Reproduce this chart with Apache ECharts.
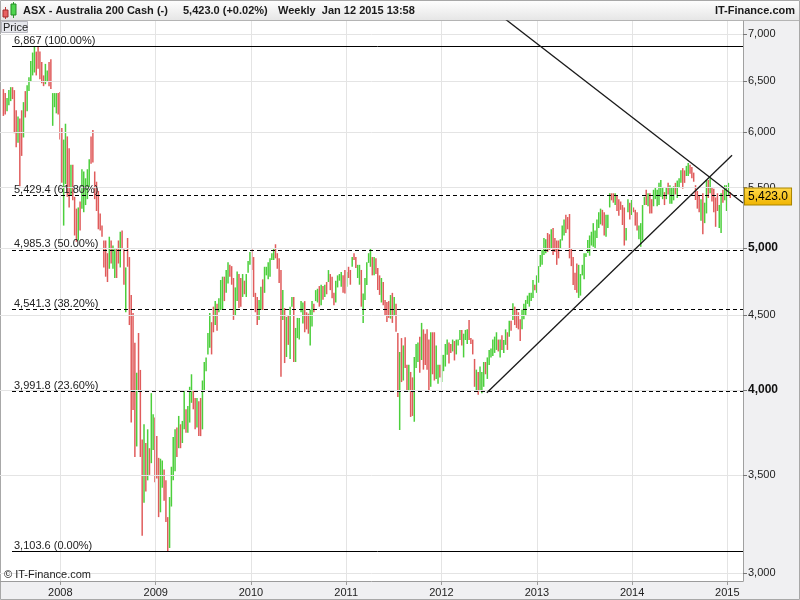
<!DOCTYPE html>
<html>
<head>
<meta charset="utf-8">
<script src="https://cdn.jsdelivr.net/npm/echarts@6/dist/echarts.min.js"></script>
<style>
  html, body { margin: 0; padding: 0; background: #fff; }
  #chart { width: 800px; height: 600px; }
</style>
</head>
<body>
<div id="chart"></div>
<script>
// weekly bars: [high, low, closedUp]
const w2007 = [[6420,6155,0],[6380,6170,0],[6330,6200,1],[6410,6260,1],[6440,6300,1],[6440,6320,0],[6410,5990,0],[6210,5860,0],[6150,5900,1],[6130,5510,0],[6210,5780,0],[6290,5950,1],[6400,6140,0],[6460,6200,1],[6540,6400,1],[6710,6500,1],[6800,6560,1],[6867,6590,1],[6810,6560,0],[6860,6630,0],[6810,6520,0],[6700,6480,0],[6560,6450,0],[6680,6470,1],[6610,6500,1],[6700,6450,0],[6730,6420,0],[6380,6060,1],[6380,6240,1],[6380,6180,1],[6380,6170,0]];
const w2008 = [[6390,5930,0],[6040,5540,0],[5930,5180,1],[6080,5530,1],[5960,5420,0],[5850,5330,0],[5700,5430,1],[5700,5390,0],[5420,5100,0],[5320,5050,0],[5330,5060,1],[5380,5140,0],[5660,5320,1],[5640,5290,1],[5580,5350,1],[5660,5400,1],[5750,5500,1],[5960,5710,0],[6020,5720,0],[5640,5400,0],[5550,5300,0],[5470,5150,0],[5280,5140,0],[5180,5090,0],[5060,4850,0],[5060,4780,0],[4960,4740,0],[5090,4840,1],[5060,4880,0],[5020,4840,1],[4990,4770,1],[5000,4770,0],[5060,4880,0],[5130,4850,1],[5140,4990,0],[4990,4720,0],[4850,4520,1],[5080,4855,0],[4930,4430,0],[4645,3800,0],[4515,3876,0],[4308,3600,0],[4110,3660,1],[4375,4000,0],[4128,3600,0],[3700,3180,0],[3790,3350,1],[3680,3410,0],[3760,3470,1],[3650,3500,0],[3980,3565,1],[3850,3640,1]];
const w2009 = [[3830,3460,0],[3720,3480,0],[3595,3275,0],[3590,3300,1],[3580,3430,1],[3530,3360,0],[3470,3250,0],[3275,3104,0],[3380,3120,1],[3545,3330,1],[3715,3470,1],[3760,3520,1],[3770,3600,0],[3840,3650,1],[3790,3650,0],[3810,3680,1],[4000,3760,1],[3880,3740,0],[3900,3740,1],[4020,3800,1],[4100,3920,1],[4000,3880,0],[3950,3760,0],[3950,3770,1],[3930,3720,0],[3950,3720,0],[4060,3760,1],[4180,4000,1],[4210,4120,1],[4375,4230,1],[4515,4275,1],[4450,4230,0],[4560,4380,0],[4600,4430,1],[4580,4390,0],[4620,4520,1],[4755,4536,1],[4780,4540,1],[4780,4600,0],[4830,4660,1],[4890,4730,1],[4870,4780,0],[4860,4720,0],[4770,4466,0],[4700,4500,1],[4820,4600,1],[4800,4550,0],[4770,4560,0],[4800,4630,1],[4750,4650,0],[4800,4630,1],[4900,4810,1]];
const w2010 = [[4970,4870,1],[5000,4831,0],[4930,4630,0],[4660,4520,0],[4630,4430,0],[4608,4466,1],[4705,4536,1],[4760,4536,0],[4855,4660,1],[4855,4790,1],[4890,4760,1],[4920,4780,1],[4960,4907,1],[5000,4907,1],[5030,4920,0],[4960,4840,0],[4920,4733,0],[4831,4084,0],[4681,4466,1],[4550,4173,0],[4487,4213,1],[4500,4294,0],[4560,4200,1],[4630,4560,1],[4630,4180,0],[4410,4180,1],[4480,4340,1],[4480,4330,1],[4600,4520,1],[4590,4440,1],[4600,4380,0],[4520,4400,0],[4510,4370,0],[4540,4290,1],[4600,4420,1],[4580,4520,0],[4680,4600,1],[4690,4590,1],[4710,4560,0],[4720,4570,1],[4710,4610,0],[4720,4630,1],[4740,4650,0],[4830,4740,1],[4800,4680,0],[4780,4620,0],[4660,4570,0],[4750,4590,1],[4790,4700,1],[4800,4750,1],[4815,4705,1],[4790,4660,0]];
const w2011 = [[4831,4655,0],[4815,4705,1],[4855,4770,0],[4831,4720,0],[4930,4855,1],[4960,4907,0],[4930,4845,0],[4870,4770,1],[4870,4720,1],[4831,4560,0],[4655,4445,1],[4770,4608,1],[4890,4718,1],[4960,4885,1],[5000,4855,1],[4930,4790,0],[4930,4790,1],[4920,4800,0],[4845,4681,0],[4790,4645,0],[4770,4590,1],[4740,4570,0],[4608,4501,0],[4593,4452,0],[4600,4480,0],[4644,4475,1],[4660,4445,0],[4630,4500,1],[4580,4383,0],[4375,3956,0],[4246,3756,1],[4340,4050,0],[4290,4060,1],[4346,4140,0],[4161,3990,0],[4161,3990,1],[4115,3834,0],[4080,3840,0],[4213,3805,1],[4300,4140,1],[4310,4180,1],[4350,4110,0],[4445,4193,1],[4400,4130,0],[4370,4160,0],[4400,4130,0],[4330,3990,0],[4380,4020,1],[4380,4100,0],[4380,4060,0],[4290,4070,1],[4161,4040,1]];
const w2012 = [[4161,4080,0],[4227,4050,1],[4227,4120,1],[4300,4150,1],[4330,4227,1],[4310,4170,0],[4300,4240,0],[4330,4250,1],[4320,4190,0],[4330,4230,1],[4330,4290,1],[4396,4327,1],[4396,4290,0],[4370,4210,1],[4396,4327,1],[4400,4300,1],[4466,4327,0],[4340,4300,0],[4330,4230,0],[4200,4020,0],[4130,3990,1],[4115,3970,0],[4150,3990,1],[4115,3980,1],[4180,4020,1],[4180,4100,0],[4210,4070,1],[4260,4160,1],[4270,4210,1],[4330,4220,1],[4350,4240,1],[4380,4260,1],[4330,4250,0],[4330,4210,1],[4360,4260,0],[4327,4240,1],[4400,4294,1],[4380,4260,0],[4460,4350,1],[4460,4390,0],[4585,4466,1],[4560,4430,0],[4540,4410,0],[4520,4400,0],[4470,4320,0],[4540,4400,1],[4580,4470,1],[4608,4500,1],[4640,4580,1],[4660,4560,1],[4660,4600,1],[4755,4623,1],[4720,4680,0]];
const w2013 = [[4790,4660,1],[4860,4735,1],[4946,4855,1],[4985,4870,1],[5080,4946,1],[5070,4960,1],[5120,4970,0],[5110,4985,0],[5150,5000,1],[5160,4946,0],[5080,4970,0],[5060,4870,0],[5060,4920,0],[5070,5000,1],[5180,5060,1],[5230,5100,1],[5270,5120,0],[5250,5150,0],[5275,4920,0],[5000,4860,0],[4930,4718,0],[4810,4681,0],[4880,4660,0],[4870,4623,1],[4800,4640,1],[4870,4790,1],[4960,4760,1],[4960,4930,1],[5064,4962,1],[5100,4940,1],[5130,5020,1],[5200,5010,1],[5140,5000,1],[5230,5080,1],[5290,5160,1],[5320,5190,1],[5310,5180,0],[5290,5100,0],[5270,5090,1],[5270,5160,1],[5450,5330,1],[5450,5390,0],[5450,5370,0],[5450,5350,1],[5430,5300,0],[5400,5260,0],[5380,5310,0],[5350,5185,0],[5330,5020,0],[5160,5060,1],[5400,5290,1],[5370,5230,0]];
const w2014 = [[5393,5267,1],[5330,5290,0],[5310,5180,0],[5290,5140,0],[5180,5070,1],[5200,5010,1],[5350,5060,1],[5420,5350,1],[5480,5350,0],[5450,5340,1],[5450,5280,0],[5400,5280,0],[5480,5340,1],[5500,5400,1],[5480,5340,1],[5540,5350,1],[5565,5420,1],[5500,5400,1],[5460,5350,0],[5500,5400,1],[5540,5440,0],[5520,5360,1],[5500,5360,1],[5510,5390,1],[5540,5440,0],[5560,5410,1],[5580,5500,1],[5650,5540,1],[5670,5490,0],[5650,5540,0],[5690,5600,1],[5716,5600,1],[5700,5620,0],[5680,5580,0],[5630,5550,0],[5520,5393,0],[5470,5320,0],[5430,5290,0],[5400,5220,1],[5450,5110,0],[5370,5200,1],[5565,5280,1],[5565,5410,0],[5580,5450,1],[5500,5380,0],[5490,5290,0],[5415,5170,0],[5450,5300,0],[5351,5160,1],[5450,5120,1],[5480,5370,0],[5520,5390,1]];
const w2015 = [[5520,5300,1],[5540,5430,1],[5460,5410,0]];

const lastWeek = '2015-01-12';
const lastPrice = 5423.0;
const yTicks = [3000, 3500, 4000, 4500, 5000, 5500, 6000, 6500, 7000];
const yearTicks = ['2008-01-01','2009-01-01','2010-01-01','2011-01-01','2012-01-01','2013-01-01','2014-01-01','2015-01-01'];
const fibLevels = [6867, 5429.4, 4985.3, 4541.3, 3991.8, 3103.6];
const fibNames = ['6,867 (100.00%)', '5,429.4 (61.80%)', '4,985.3 (50.00%)', '4,541.3 (38.20%)', '3,991.8 (23.60%)', '3,103.6 (0.00%)'];
const fibStart = '2007-06-30';
const downTrend = [['2012-05-28', 7391], ['2015-03-02', 5368]];
const upTrend = [['2012-06-23', 3983], ['2015-01-19', 5786]];

const FONT = '"Liberation Sans", Arial, sans-serif';
const day = s => { const p = s.split('-'); return Date.UTC(+p[0], +p[1] - 1, +p[2]); };
const WEEK = 7 * 86400000;
const X_MIN = day('2007-05-15');
const X_MAX = day('2015-03-02');
const fmt = v => v.toLocaleString('en-US');

const weeks = [].concat(w2007, w2008, w2009, w2010, w2011, w2012, w2013, w2014, w2015);
const tLast = day(lastWeek);
const bars = weeks.map((w, i) => [tLast - (weeks.length - 1 - i) * WEEK, w[0], w[1], w[2]]);
const yearStarts = yearTicks.map(day);

const chart = echarts.init(document.getElementById('chart'));

chart.setOption({
  animation: false,
  backgroundColor: '#fff',
  grid: { left: 0, right: 57, top: 21, bottom: 19, containLabel: false },
  xAxis: {
    // timestamps on a plain value axis so the year ticks can be placed exactly
    type: 'value', min: X_MIN, max: X_MAX,
    axisLine: { lineStyle: { color: '#9c9c9c' } },
    axisTick: { show: true, length: 4, customValues: yearStarts, lineStyle: { color: '#9c9c9c' } },
    axisLabel: {
      customValues: yearStarts, margin: 6, color: '#222', fontSize: 11, fontFamily: FONT,
      formatter: v => String(new Date(v).getUTCFullYear())
    },
    splitLine: { show: false }
  },
  yAxis: {
    type: 'log', logBase: 10, position: 'right', min: 2962, max: 7146,
    axisLine: { show: true, lineStyle: { color: '#a0a0a0' } },
    axisTick: { show: true, length: 4, customValues: yTicks, lineStyle: { color: '#777' } },
    axisLabel: {
      customValues: yTicks, margin: 5, color: '#222', fontSize: 11, fontFamily: FONT,
      formatter: v => (v === 4000 || v === 5000) ? '{b|' + fmt(v) + '}' : fmt(v),
      rich: { b: { fontSize: 12, fontWeight: 'bold', color: '#111', fontFamily: FONT } }
    },
    splitLine: { show: false }
  },
  graphic: [
    { type: 'rect', z: -10, shape: { x: 0, y: 0, width: 800, height: 20 },
      style: { fill: new echarts.graphic.LinearGradient(0, 0, 0, 1, [{ offset: 0, color: '#ffffff' }, { offset: 1, color: '#e6e6e6' }]) } },
    { type: 'line', z: -9, shape: { x1: 0, y1: 20.5, x2: 800, y2: 20.5 }, style: { stroke: '#b4b4b4', lineWidth: 1 } },
    { type: 'rect', z: -10, shape: { x: 743, y: 21, width: 57, height: 579 }, style: { fill: '#f0f0f2' } },
    { type: 'rect', z: -10, shape: { x: 0, y: 581, width: 800, height: 19 }, style: { fill: '#f0f0f2' } },
    { type: 'rect', z: -8, shape: { x: 0.5, y: 0.5, width: 799, height: 599 }, style: { fill: null, stroke: '#a8a8a8', lineWidth: 1 } },
    // candlestick icon
    { type: 'line', z: 5, shape: { x1: 5.5, y1: 7, x2: 5.5, y2: 19 }, style: { stroke: '#c23b3b', lineWidth: 1 } },
    { type: 'rect', z: 6, shape: { x: 3, y: 10, width: 5, height: 7 }, style: { fill: '#e86060', stroke: '#a02a2a', lineWidth: 1 } },
    { type: 'line', z: 5, shape: { x1: 13.5, y1: 2, x2: 13.5, y2: 18 }, style: { stroke: '#2e9a2e', lineWidth: 1 } },
    { type: 'rect', z: 6, shape: { x: 11, y: 4, width: 5, height: 11 }, style: { fill: '#4fd64f', stroke: '#248a24', lineWidth: 1 } },
    { type: 'text', z: 5, x: 23, y: 11, style: { text: 'ASX - Australia 200 Cash (-)', font: 'bold 11px ' + FONT, fill: '#1a1a1a', verticalAlign: 'middle' } },
    { type: 'text', z: 5, x: 183, y: 11, style: { text: '5,423.0 (+0.02%)', font: 'bold 11px ' + FONT, fill: '#1a1a1a', verticalAlign: 'middle' } },
    { type: 'text', z: 5, x: 278, y: 11, style: { text: 'Weekly  Jan 12 2015 13:58', font: 'bold 11px ' + FONT, fill: '#1a1a1a', verticalAlign: 'middle' } },
    { type: 'text', z: 5, x: 795, y: 11, style: { text: 'IT-Finance.com', font: 'bold 11px ' + FONT, fill: '#1a1a1a', verticalAlign: 'middle', align: 'right' } },
    // "Price" tab
    { type: 'rect', z: 5, shape: { x: 1.5, y: 21.5, width: 26, height: 11 }, style: { fill: '#e6e7ec', stroke: '#b8b8c0', lineWidth: 1 } },
    { type: 'text', z: 6, x: 3, y: 27.5, style: { text: 'Price', font: '11px ' + FONT, fill: '#222', verticalAlign: 'middle' } },
    { type: 'text', z: 6, x: 4, y: 575, style: { text: '\u00a9 IT-Finance.com', font: '11px ' + FONT, fill: '#222', verticalAlign: 'middle' } }
  ],
  series: [
    {
      // grid lines
      type: 'line', data: [], z: 1, silent: true,
      markLine: {
        silent: true, symbol: ['none', 'none'], animation: false,
        label: { show: false },
        lineStyle: { color: '#e4e4e4', width: 1, type: 'solid' },
        data: yTicks.map(v => ({ yAxis: v })).concat(yearStarts.map(t => ({ xAxis: t })))
      }
    },
    {
      name: 'ASX 200', type: 'custom', z: 3, clip: true,
      data: bars,
      encode: { x: 0, y: [1, 2] },
      renderItem: (params, api) => {
        const hi = api.coord([api.value(0), api.value(1)]);
        const lo = api.coord([api.value(0), api.value(2)]);
        return {
          type: 'line',
          shape: { x1: hi[0], y1: hi[1], x2: lo[0], y2: lo[1] },
          style: { stroke: api.value(3) ? '#4ccf3c' : '#e05c5c', lineWidth: 1.5 }
        };
      }
    },
    {
      // fibonacci levels
      type: 'line', data: [], z: 4, silent: true,
      markLine: {
        silent: true, symbol: ['none', 'none'], animation: false,
        data: fibLevels.map((v, i) => {
          const solid = i === 0 || i === fibLevels.length - 1;
          return [
            { coord: [day(fibStart), v], lineStyle: { color: '#000', width: 1, type: solid ? 'solid' : [4, 3] },
              label: { show: true, position: 'insideStartTop', distance: 0, formatter: fibNames[i], color: '#222', fontSize: 11, fontFamily: FONT, padding: [0, 0, 0, 2] } },
            { coord: [X_MAX, v] }
          ];
        })
      }
    },
    {
      // last price tag on the price axis
      type: 'line', data: [], z: 6, silent: true,
      markLine: {
        silent: true, symbol: ['none', 'none'], animation: false,
        lineStyle: { color: 'rgba(0,0,0,0)', width: 1 },
        label: {
          show: true, position: 'end', distance: 2, formatter: '5,423.0',
          color: '#000', fontSize: 12, fontFamily: FONT, padding: [2, 3, 2, 3],
          backgroundColor: new echarts.graphic.LinearGradient(0, 0, 0, 1, [{ offset: 0, color: '#ffd84a' }, { offset: 1, color: '#f0b400' }]),
          borderColor: '#a88400', borderWidth: 1
        },
        data: [{ yAxis: lastPrice }]
      }
    },
    {
      name: 'down trend', type: 'line', z: 5, clip: true, symbol: 'none', silent: true,
      data: downTrend.map(p => [day(p[0]), p[1]]),
      lineStyle: { color: '#1a1a1a', width: 1.3 }
    },
    {
      name: 'up trend', type: 'line', z: 5, clip: true, symbol: 'none', silent: true,
      data: upTrend.map(p => [day(p[0]), p[1]]),
      lineStyle: { color: '#1a1a1a', width: 1.3 }
    }
  ]
});
</script>
</body>
</html>
